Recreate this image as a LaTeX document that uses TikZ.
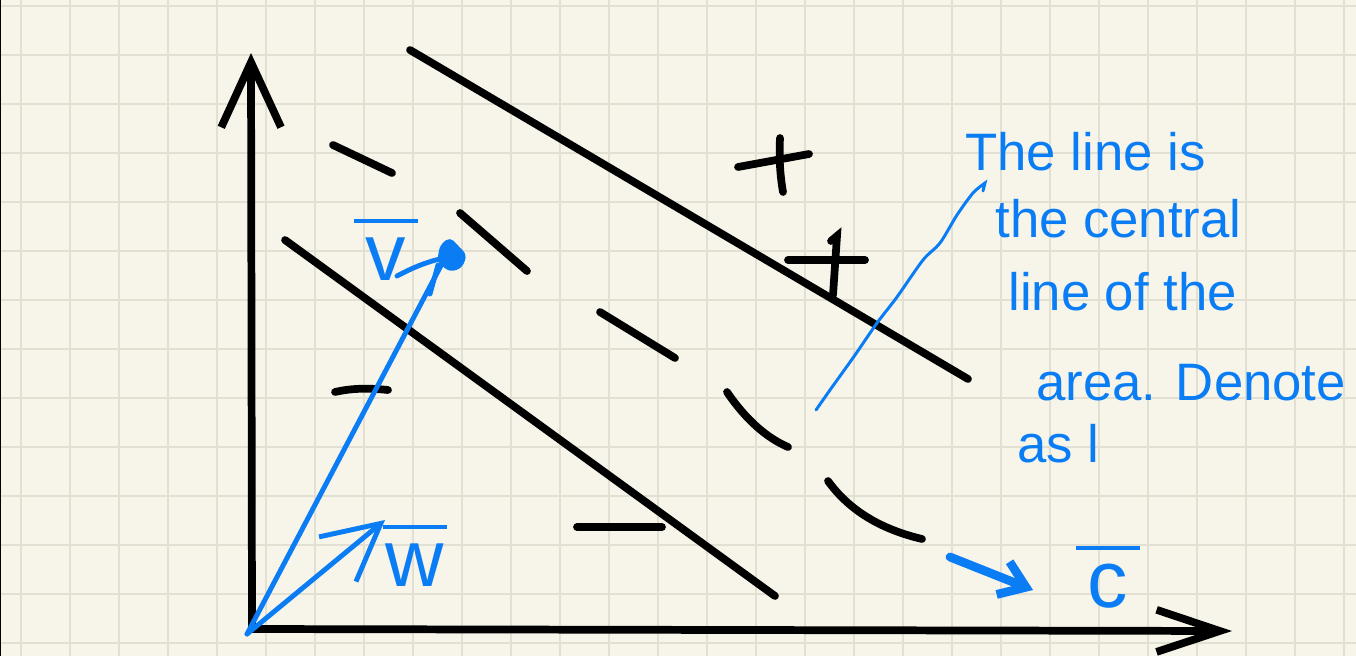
\documentclass[tikz,border=0pt]{standalone}
\usepackage{fontspec}
\setmainfont{Liberation Sans}
\usetikzlibrary{arrows.meta}
\definecolor{paper}{HTML}{F7F5EA}
\definecolor{gridline}{HTML}{E2E0D2}
\definecolor{pen}{HTML}{0A7DF5}
\newcommand{\barred}[1]{\shortstack{\rule{0.8em}{2.2pt}\\\rule{0pt}{0.64em}#1}}
\tikzset{
	ink/.style = {line width=4.4pt, line cap=round, black},
	blueink/.style = {line width=2.8pt, line cap=round, pen},
	veclabel/.style = {anchor=base, inner sep=0pt, text=pen, font=\fontsize{46}{46}\selectfont},
	note/.style = {anchor=base west, inner sep=0pt, text=pen, font=\fontsize{30}{30}\selectfont}
}

\begin{document}
\begin{tikzpicture}[x=0.02cm, y=-0.02cm]
    % Paper
    \fill[paper] (0,0) rectangle (1356,656);
    \useasboundingbox (0,0) rectangle (1356,656);
    \foreach \gx in {21,70,...,1350}
        \draw[gridline, line width=1.1pt] (\gx,0) -- (\gx,656);
    \foreach \gy in {6,55,...,650}
        \draw[gridline, line width=1.1pt] (0,\gy) -- (1356,\gy);
    \draw[black, line width=0.8pt] (0.4,0) -- (0.4,656);

    % Coordinates
    \coordinate (origin) at (252,629);
    \coordinate (ytip) at (251,53);
    \coordinate (xtip) at (1232,631);
    \coordinate (upperA) at (410,50);
    \coordinate (upperB) at (968,379);
    \coordinate (lowerA) at (285,240);
    \coordinate (lowerB) at (775,596);
    \coordinate (vecorigin) at (247,634);
    \coordinate (vtip) at (445,258);
    \coordinate (wtip) at (385,520);
    \coordinate (cstart) at (950,557);
    \coordinate (ctip) at (1033,590);
    \coordinate (ptrfoot) at (816,410);
    \coordinate (ptrhead) at (985,183);

    % Axes
    \draw[ink, -{Straight Barb[length=37pt,width=34pt]}] (origin) -- (ytip);
    \draw[ink, -{Straight Barb[length=36pt,width=24pt]}] (origin) -- (xtip);

    % Boundary lines
    \draw[ink] (upperA) -- (upperB);
    \draw[ink] (lowerA) -- (lowerB);

    % Central line (dashed by hand)
    \draw[ink] (333,145) -- (392,173);
    \draw[ink] (460,213) -- (527,271);
    \draw[ink] (600,312) -- (675,358);
    \draw[ink] (727,392) .. controls (746,420) and (767,438) .. (788,447);
    \draw[ink] (828,481) .. controls (849,510) and (880,529) .. (922,539);

    % Signs
    \draw[ink] (738,167) -- (809,154);
    \draw[ink] (780,138) .. controls (779,158) and (780,175) .. (783,192);
    \draw[ink] (788,260) -- (865,260);
    \draw[ink] (831,241) -- (837,236) -- (833,295);
    \draw[ink] (335,392) .. controls (352,388) and (370,388) .. (388,390);
    \draw[ink] (577,527) -- (662,527);

    % Vectors
    \draw[blueink] (vecorigin) -- (vtip);
    \fill[pen, rounded corners=3pt] (440,245) -- (450,237) -- (467,255) -- (462,268) -- (450,272) -- (437,262) -- cycle;
    \draw[blueink] (397,276) .. controls (412,268) and (428,261) .. (vtip);
    \draw[blueink] (430,294) -- (438,265);
    \draw[blueink, -{Straight Barb[length=32pt,width=33pt]}] (vecorigin) -- (wtip);
    \draw[blueink, line width=5pt, -{Straight Barb[length=14pt,width=20pt]}] (cstart) -- (ctip);

    % Labels
    \node[veclabel] (vlabel) at (386,280) {\barred{v}};
    \node[veclabel] (wlabel) at (415,586) {\barred{w}};
    \node[veclabel] (clabel) at (1108,607) {\barred{c}};

    % Note
    \draw[blueink, line width=1.7pt] plot[smooth] coordinates {(ptrfoot) (830,390) (855,355) (877,323) (897,297) (923,260) (940,243) (957,215) (973,193) (ptrhead)} -- (983,191);
    \node[note] (note1) at (965,170) {The line is};
    \node[note] (note2) at (995,237) {the central};
    \node[note] (note3) at (1008,310) {line of the};
    \node[note] (note4) at (1036,400) {area. Denote};
    \node[note] (note5) at (1017,462) {as l};

\end{tikzpicture}
\end{document}
